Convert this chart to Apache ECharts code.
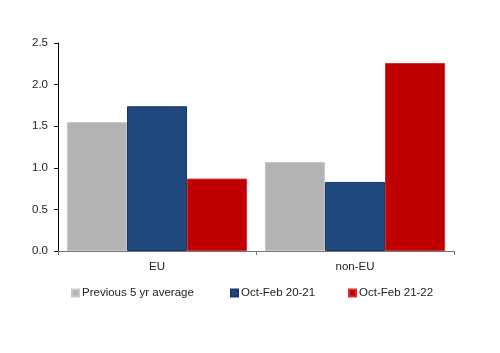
<!DOCTYPE html>
<html><head><meta charset="utf-8">
<script src="https://cdn.jsdelivr.net/npm/echarts@6/dist/echarts.min.js"></script>
<style>html,body{margin:0;padding:0;background:#fff}#c{width:500px;height:353px}</style>
</head><body><div id="c"></div>
<script>
var categories = ['EU', 'non-EU'];
var seriesNames = ['Previous 5 yr average', 'Oct-Feb 20-21', 'Oct-Feb 21-22'];
var prev5yr = [1.55, 1.07];
var octFeb2021 = [1.74, 0.83];
var octFeb2122 = [0.87, 2.26];
var yTicks = [0, 0.5, 1.0, 1.5, 2.0, 2.5];

var colors = ['#b3b3b3', '#1f497d', '#c00000'];
var borders = ['#c8c8c8', '#17386a', '#d03030'];
var values = [prev5yr, octFeb2021, octFeb2122];
var legendLeft = [71, 230, 348];
var font = 'Liberation Sans';

var chart = echarts.init(document.getElementById('c'), null, {renderer: 'canvas'});
chart.setOption({
  animation: false,
  textStyle: {fontFamily: font},
  grid: {left: 58, right: 46, top: 43, bottom: 102, containLabel: false},
  legend: seriesNames.map(function (n, i) {
    return {
      left: legendLeft[i] - 5, top: 282, itemWidth: 7, itemHeight: 7,
      icon: 'rect',
      textStyle: {fontFamily: font, fontSize: 11.5, color: '#222', padding: [0, 0, 0, -2]},
      data: [n]
    };
  }),
  xAxis: {
    type: 'category', data: categories,
    axisLine: {lineStyle: {color: '#777', width: 1}},
    axisTick: {show: true, length: 4, lineStyle: {color: '#777'}},
    axisLabel: {fontFamily: font, fontSize: 11.5, color: '#222', margin: 10}
  },
  yAxis: {
    type: 'value', min: 0, max: 2.5, interval: 0.5,
    splitLine: {show: false},
    axisLine: {show: true, lineStyle: {color: '#000', width: 1}},
    axisTick: {show: true, length: 4, lineStyle: {color: '#000'}},
    axisLabel: {fontFamily: font, fontSize: 11.5, color: '#222', margin: 10,
      formatter: function (v) { return yTicks.indexOf(v) >= 0 ? v.toFixed(1) : ''; }}
  },
  series: seriesNames.map(function (n, i) {
    return {
      name: n, type: 'bar', data: values[i],
      barGap: '0%', barCategoryGap: '9%',
      itemStyle: {color: colors[i], borderColor: borders[i], borderWidth: 1}
    };
  })
});
</script></body></html>
